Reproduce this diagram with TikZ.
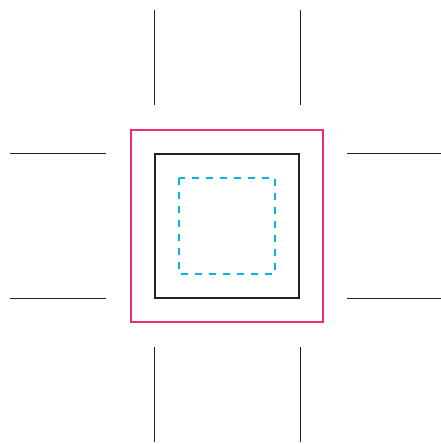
\documentclass[tikz,border=0pt]{standalone}
\definecolor{frameMag}{RGB}{233,45,122}
\definecolor{dashCyan}{RGB}{10,178,222}
\definecolor{lineDark}{RGB}{34,34,34}
\begin{document}
\begin{tikzpicture}[x=1pt,y=-1pt,
  road/.style={draw=lineDark,line width=1pt},
  outerbox/.style={draw=frameMag,line width=2pt},
  innerbox/.style={draw=lineDark,line width=2pt},
  dashbox/.style={draw=dashCyan,line width=1.6pt,dash pattern=on 7pt off 7pt}]
\useasboundingbox (0,0) rectangle (441,444);
% road line ends
\coordinate (t1a) at (154,10);  \coordinate (t1b) at (154,105);
\coordinate (t2a) at (300,10);  \coordinate (t2b) at (300,105);
\coordinate (b1a) at (154,347); \coordinate (b1b) at (154,442);
\coordinate (b2a) at (300,347); \coordinate (b2b) at (300,442);
\coordinate (l1a) at (10,153);  \coordinate (l1b) at (106,153);
\coordinate (l2a) at (10,298);  \coordinate (l2b) at (106,298);
\coordinate (r1a) at (347,153); \coordinate (r1b) at (441,153);
\coordinate (r2a) at (347,298); \coordinate (r2b) at (441,298);
\draw[road] (t1a) -- (t1b);
\draw[road] (t2a) -- (t2b);
\draw[road] (b1a) -- (b1b);
\draw[road] (b2a) -- (b2b);
\draw[road] (l1a) -- (l1b);
\draw[road] (l2a) -- (l2b);
\draw[road] (r1a) -- (r1b);
\draw[road] (r2a) -- (r2b);
% squares
\draw[outerbox] (131,130) rectangle (323,322);
\draw[innerbox] (155,154) rectangle (299,298);
\draw[dashbox] (179,178) rectangle (275,274);
\end{tikzpicture}
\end{document}
